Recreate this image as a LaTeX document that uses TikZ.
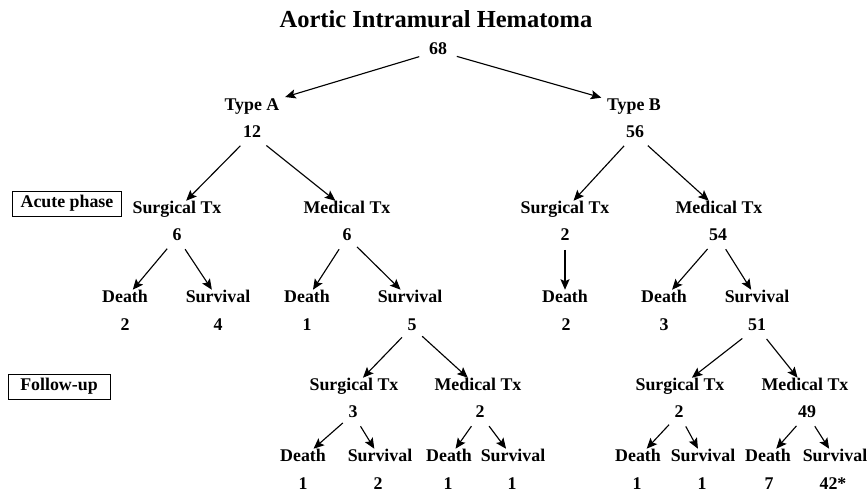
\documentclass[tikz,border=0pt]{standalone}
\usepackage{fontspec}
\setmainfont{Liberation Serif}
\usetikzlibrary{arrows.meta}

\begin{document}
\begin{tikzpicture}[x=0.025cm, y=-0.025cm,
  lbl/.style={font=\fontsize{12.7}{15}\selectfont\bfseries, inner sep=2pt,
    text height=0.68em, text depth=0.2em},
  phase/.style={lbl, draw, line width=0.6pt, minimum height=0.64cm},
  arr/.style={-{Stealth[length=7.5pt,width=6.5pt,inset=1.5pt]}, line width=0.8pt, shorten <=2.5pt}]
  \useasboundingbox (0,0) rectangle (868,493);

  % Titre et racine
  \node[font=\fontsize{17.4}{20}\selectfont\bfseries] (title) at (436,19) {Aortic Intramural Hematoma};
  \node[lbl] (root) at (438,51) {68};

  % Types
  \node[lbl] (tA) at (252,107) {Type A};
  \node[lbl] (nA) at (252,134) {12};
  \node[lbl] (tB) at (634,107) {Type B};
  \node[lbl] (nB) at (635,134) {56};

  % Phases
  \node[phase, minimum width=2.72cm] (acute) at (67,204) {Acute phase};
  \node[phase, minimum width=2.55cm] (follow) at (59,387) {Follow-up};

  % Phase aigue : traitements
  \node[lbl] (sA) at (177,210) {Surgical Tx};
  \node[lbl] (nsA) at (177,237) {6};
  \node[lbl] (mA) at (347,210) {Medical Tx};
  \node[lbl] (nmA) at (347,237) {6};
  \node[lbl] (sB) at (565,210) {Surgical Tx};
  \node[lbl] (nsB) at (565,237) {2};
  \node[lbl] (mB) at (719,210) {Medical Tx};
  \node[lbl] (nmB) at (718,237) {54};

  % Phase aigue : issues
  \node[lbl] (dA1) at (125,299) {Death};
  \node[lbl] (ndA1) at (125,327) {2};
  \node[lbl] (vA1) at (218,299) {Survival};
  \node[lbl] (nvA1) at (218,327) {4};
  \node[lbl] (dA2) at (307,299) {Death};
  \node[lbl] (ndA2) at (307,327) {1};
  \node[lbl] (vA2) at (410,299) {Survival};
  \node[lbl] (nvA2) at (412,327) {5};
  \node[lbl] (dB1) at (565,299) {Death};
  \node[lbl] (ndB1) at (566,327) {2};
  \node[lbl] (dB2) at (664,299) {Death};
  \node[lbl] (ndB2) at (664,327) {3};
  \node[lbl] (vB2) at (757,299) {Survival};
  \node[lbl] (nvB2) at (757,327) {51};

  % Suivi : traitements
  \node[lbl] (fsA) at (354,387) {Surgical Tx};
  \node[lbl] (nfsA) at (353,414) {3};
  \node[lbl] (fmA) at (478,387) {Medical Tx};
  \node[lbl] (nfmA) at (480,414) {2};
  \node[lbl] (fsB) at (680,387) {Surgical Tx};
  \node[lbl] (nfsB) at (679,414) {2};
  \node[lbl] (fmB) at (805,387) {Medical Tx};
  \node[lbl] (nfmB) at (807,414) {49};

  % Suivi : issues
  \node[lbl] (fdA1) at (303,458) {Death};
  \node[lbl] (nfdA1) at (303,486) {1};
  \node[lbl] (fvA1) at (380,458) {Survival};
  \node[lbl] (nfvA1) at (378,486) {2};
  \node[lbl] (fdA2) at (449,458) {Death};
  \node[lbl] (nfdA2) at (448,486) {1};
  \node[lbl] (fvA2) at (513,458) {Survival};
  \node[lbl] (nfvA2) at (512,486) {1};
  \node[lbl] (fdB1) at (638,458) {Death};
  \node[lbl] (nfdB1) at (637,486) {1};
  \node[lbl] (fvB1) at (703,458) {Survival};
  \node[lbl] (nfvB1) at (702,486) {1};
  \node[lbl] (fdB2) at (768,458) {Death};
  \node[lbl] (nfdB2) at (769,486) {7};
  \node[lbl] (fvB2) at (835,458) {Survival};
  \node[lbl] (nfvB2) at (833,486) {42*};

  % Fleches
  \draw[arr, shorten <=5pt, shorten >=2pt] (root) -- (tA);
  \draw[arr, shorten <=5pt, shorten >=2pt] (root) -- (tB);
  \draw[arr] (nA) -- (sA);
  \draw[arr] (nA) -- (mA);
  \draw[arr] (nB) -- (sB);
  \draw[arr] (nB) -- (mB);
  \draw[arr] (nsA) -- (dA1);
  \draw[arr] (nsA) -- (vA1);
  \draw[arr] (nmA) -- (dA2);
  \draw[arr] (nmA) -- (vA2);
  \draw[arr] (nsB) -- (dB1);
  \draw[arr] (nmB) -- (dB2);
  \draw[arr] (nmB) -- (vB2);
  \draw[arr] (nvA2) -- (fsA);
  \draw[arr] (nvA2) -- (fmA);
  \draw[arr] (nvB2) -- (fsB);
  \draw[arr] (nvB2) -- (fmB);
  \draw[arr] (nfsA) -- (fdA1);
  \draw[arr] (nfsA) -- (fvA1);
  \draw[arr] (nfmA) -- (fdA2);
  \draw[arr] (nfmA) -- (fvA2);
  \draw[arr] (nfsB) -- (fdB1);
  \draw[arr] (nfsB) -- (fvB1);
  \draw[arr] (nfmB) -- (fdB2);
  \draw[arr] (nfmB) -- (fvB2);
\end{tikzpicture}
\end{document}
